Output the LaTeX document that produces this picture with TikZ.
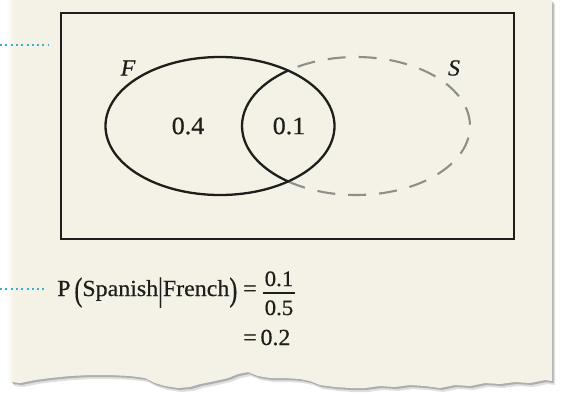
\documentclass[tikz,border=0pt]{standalone}
\usepackage{fontspec}
\setmainfont{Liberation Serif}[FakeStretch=1.04,FakeBold=0.5]
\usetikzlibrary{calc}
\definecolor{paper}{HTML}{F4F2E6}
\definecolor{ink}{HTML}{1E1E1C}
\definecolor{dashgray}{HTML}{8E8E8A}
\definecolor{leader}{HTML}{3AAED0}
\newcommand\tallglyph[1]{\raisebox{-0.2em}{\scalebox{1}[1.45]{#1}}}
\newcommand\paperfill[1]{\fill[#1] (10,0) -- (552,0) -- (552,381) -- (545,380) -- (530,383) -- (515,382) -- (500,384) -- (485,383) -- (470,386) -- (455,385) -- (440,388) -- (425,386) -- (410,385) -- (395,387) -- (380,386) -- (365,388) -- (350,388) -- (335,387) -- (320,385) -- (310,381) -- (300,379) -- (285,378) -- (270,378) -- (258,376) -- (248,372) -- (238,374) -- (228,378) -- (215,381) -- (200,384) -- (190,387) -- (178,388) -- (165,386) -- (155,383) -- (145,378) -- (130,376) -- (110,375) -- (90,375) -- (70,376) -- (50,378) -- (35,380) -- (20,383) -- (12,382) -- (10,380) -- cycle;}
\begin{document}
\begin{tikzpicture}[x=1pt,y=-1pt,
  setline/.style={ink,line width=2.3pt},
  setdash/.style={dashgray,line width=2.1pt,dash pattern=on 18pt off 13pt},
  boxline/.style={ink,line width=2.4pt},
  leaderline/.style={leader,line width=2pt,dash pattern=on 2pt off 3.3pt},
  numtext/.style={inner sep=0pt,font=\fontsize{25}{29}\selectfont,text=ink},
  lbl/.style={inner sep=0pt,font=\fontsize{23}{27}\selectfont\itshape,text=ink},
  formula/.style={inner sep=0pt,font=\fontsize{23}{27}\selectfont,text=ink},
  fracnum/.style={inner sep=0pt,font=\fontsize{22}{26}\selectfont,text=ink},
  fracbar/.style={ink,line width=1.3pt}]
\useasboundingbox (0,0) rectangle (561,395);
\fill[white] (0,0) rectangle (561,395);
% paper with shadow
\paperfill{black,opacity=0.12,shift={(3,4)}}
\paperfill{black,opacity=0.22,shift={(1.5,2)}}
\paperfill{paper}
\shade[left color=white,right color=paper] (6,0) rectangle (14,380);
% leaders
\coordinate (l1a) at (0,45); \coordinate (l1b) at (48,45);
\coordinate (l2a) at (0,289); \coordinate (l2b) at (45,289);
\draw[leaderline] (l1a) -- (l1b);
\draw[leaderline] (l2a) -- (l2b);
% universal set
\coordinate (U1) at (61,13); \coordinate (U2) at (514,239);
\draw[boxline] (U1) rectangle (U2);
% sets
\coordinate (Fc) at (220,126);
\coordinate (Sc) at (356,126);
\draw[setdash] ($(Sc)+(-126.6:114pt and 69pt)$) arc[start angle=-126.6, end angle=126.6, x radius=114pt, y radius=69pt];
\draw[setline] (Fc) ellipse [x radius=114.5pt, y radius=69pt];
\draw[setline] ($(Sc)+(126.6:114pt and 69pt)$) arc[start angle=126.6, end angle=233.4, x radius=114pt, y radius=69pt];
\node[numtext] (a) at (188,126) {0.4};
\node[numtext] (b) at (289,126) {0.1};
\node[lbl] (F) at (128,68) {F};
\node[lbl] (S) at (454,68) {S};
% formula
\node[formula,anchor=base east] (lhs) at (257,296) {P\,\tallglyph{(}Spanish\tallglyph{|}French\tallglyph{)} =};
\node[fracnum,anchor=base] (num) at (279,286) {0.1};
\node[fracnum,anchor=base] (den) at (279,315) {0.5};
\coordinate (bar1) at (263,293); \coordinate (bar2) at (295,293);
\draw[fracbar] (bar1) -- (bar2);
\node[formula,anchor=base west] (res) at (243,345) {=\,0.2};
\end{tikzpicture}
\end{document}
